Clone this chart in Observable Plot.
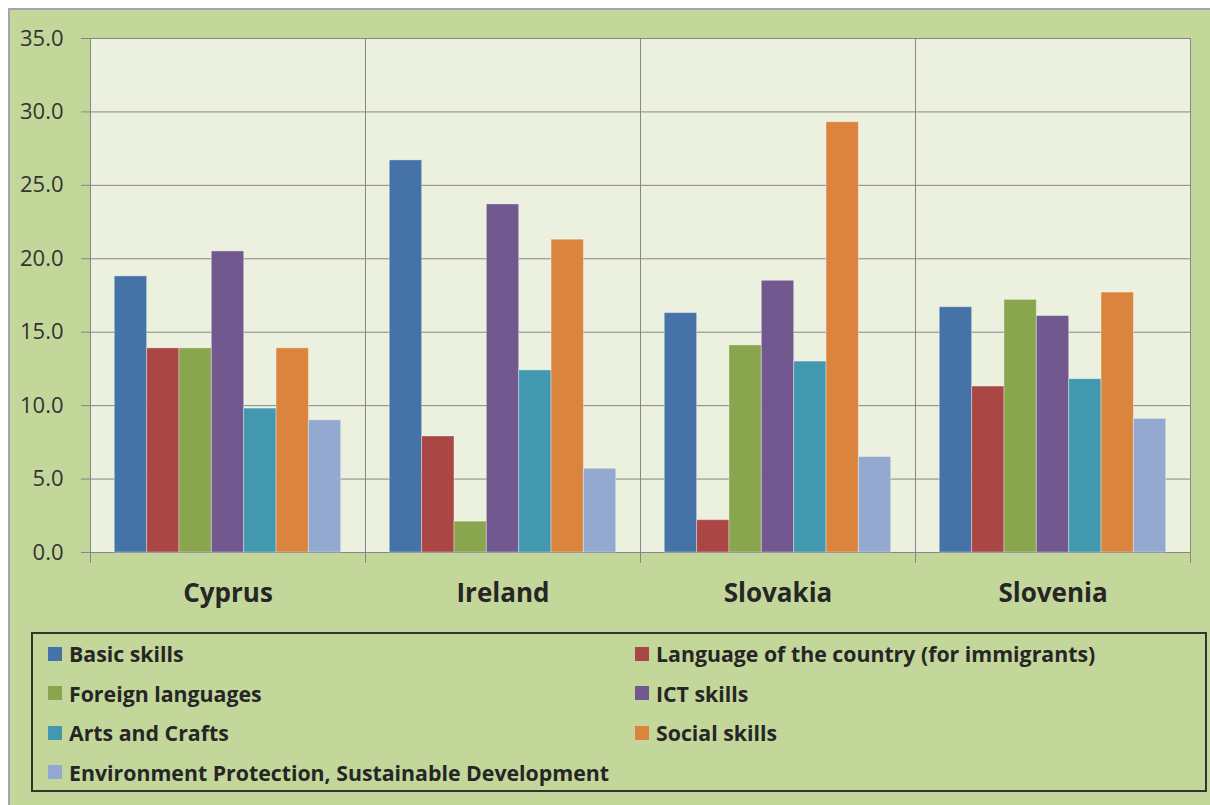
<!DOCTYPE html>
<html>
<head>
<meta charset="utf-8">
<script src="https://cdn.jsdelivr.net/npm/d3@7"></script>
<script src="https://cdn.jsdelivr.net/npm/@observablehq/plot@0.6"></script>
<style>
  html, body { margin: 0; padding: 0; width: 1210px; height: 805px; overflow: hidden; background: #ffffff; }
  #bg { position: absolute; left: 8px; top: 8px; width: 1220px; height: 820px; background: #c4d79b; border-left: 2px solid #a5a5a5; border-top: 2px solid #a5a5a5; box-sizing: border-box; }
  #chart { position: absolute; left: 0; top: 0; }
  #legend { position: absolute; left: 31px; top: 632px; width: 1176px; height: 160px; box-sizing: border-box; border: 2px solid #333333;
    display: grid; grid-template-columns: 587px 587px; grid-template-rows: repeat(4, 39.5px);
    font-family: "Open Sans", sans-serif; font-weight: bold; font-size: 21.3px; color: #262626; }
  .item { display: flex; align-items: center; padding-left: 15px; white-space: nowrap; }
  .sw { width: 14px; height: 14px; margin-right: 7px; flex: none; }
</style>
</head>
<body>
<div id="bg"></div>
<div id="chart"></div>
<div id="legend"></div>
<script>
const countries = ["Cyprus", "Ireland", "Slovakia", "Slovenia"];
const skills = [
  "Basic skills",
  "Language of the country (for immigrants)",
  "Foreign languages",
  "ICT skills",
  "Arts and Crafts",
  "Social skills",
  "Environment Protection, Sustainable Development"
];
const colors = ["#4572a7", "#aa4643", "#89a54e", "#71588f", "#4198af", "#db843d", "#93a9cf"];

// values per skill, in the order of countries
const basicSkills   = [18.8, 26.7, 16.3, 16.7];
const languageImm   = [13.9, 7.9, 2.2, 11.3];
const foreignLang   = [13.9, 2.1, 14.1, 17.2];
const ictSkills     = [20.5, 23.7, 18.5, 16.1];
const artsCrafts    = [9.8, 12.4, 13.0, 11.8];
const socialSkills  = [13.9, 21.3, 29.3, 17.7];
const environment   = [9.0, 5.7, 6.5, 9.1];
const yTicks = [0, 5, 10, 15, 20, 25, 30, 35];

const series = [basicSkills, languageImm, foreignLang, ictSkills, artsCrafts, socialSkills, environment];
const data = [];
countries.forEach((c, ci) => {
  skills.forEach((s, si) => data.push({country: c, skill: s, value: series[si][ci]}));
});

const grid = "#868686";

const plot = Plot.plot({
  width: 1210,
  height: 620,
  marginTop: 38,
  marginBottom: 68,
  marginLeft: 90,
  marginRight: 20,
  style: {background: "transparent", fontFamily: "Open Sans, sans-serif"},
  fx: {domain: countries, padding: 0, round: false},
  x: {domain: skills, paddingInner: 0, paddingOuter: 0.75, round: false, axis: null},
  y: {domain: [0, 35], label: null},
  color: {domain: skills, range: colors},
  marks: [
    Plot.frame({fill: "#ebf1de"}),
    Plot.gridY(yTicks, {stroke: grid, strokeOpacity: 1}),
    Plot.barY(data, {fx: "country", x: "skill", y: "value", fill: "skill", stroke: "#ffffff", strokeOpacity: 0.35, strokeWidth: 1}),
    Plot.frame({anchor: "left", stroke: grid, strokeOpacity: 1, insetBottom: -10}),
    Plot.frame({anchor: "right", stroke: grid, strokeOpacity: 1, insetBottom: -10}),
    Plot.axisY(yTicks, {tickSize: 9, tickPadding: 18, tickFormat: d3.format(".1f"), fontSize: 22, stroke: grid, fill: "#333333", label: null}),
    Plot.axisFx({anchor: "bottom", tickSize: 0, tickPadding: 31, label: null, fontSize: 26, fontWeight: "bold", fill: "#262626"})
  ]
});
document.getElementById("chart").appendChild(plot);

const legend = document.getElementById("legend");
skills.forEach((s, i) => {
  const it = document.createElement("div");
  it.className = "item";
  const sw = document.createElement("span");
  sw.className = "sw";
  sw.style.background = colors[i];
  it.appendChild(sw);
  it.appendChild(document.createTextNode(s));
  legend.appendChild(it);
});
</script>
</body>
</html>
